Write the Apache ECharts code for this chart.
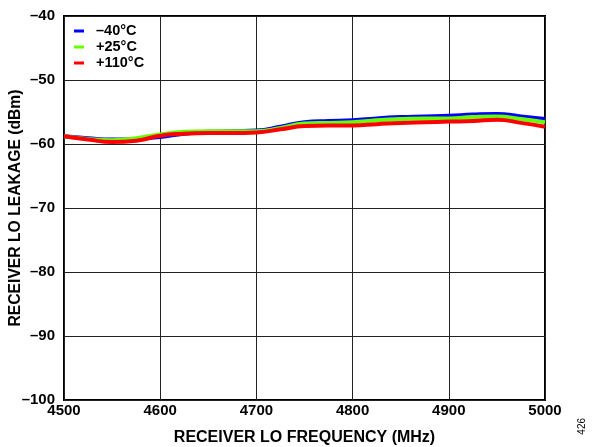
<!DOCTYPE html>
<html><head><meta charset="utf-8">
<script src="https://cdn.jsdelivr.net/npm/echarts@6/dist/echarts.min.js"></script>
<style>html,body{margin:0;padding:0;background:#fff}#c{width:593px;height:447px}</style>
</head><body><div id="c"></div>
<script>
var freq = [4500,4525,4550,4575,4600,4625,4650,4675,4700,4725,4750,4775,4800,4825,4850,4875,4900,4925,4950,4975,5000];
var blue = [-58.8,-59.1,-59.3,-59.2,-58.9,-58.4,-58.1,-58.0,-57.9,-57.3,-56.6,-56.4,-56.3,-56.0,-55.8,-55.7,-55.6,-55.4,-55.3,-55.7,-56.1];
var green = [-58.8,-59.2,-59.4,-59.1,-58.5,-58.1,-58.0,-58.0,-58.0,-57.5,-56.8,-56.7,-56.6,-56.3,-56.1,-56.0,-56.0,-55.8,-55.7,-56.1,-56.6];
var red = [-58.8,-59.3,-59.7,-59.5,-58.7,-58.4,-58.3,-58.3,-58.2,-57.7,-57.2,-57.1,-57.1,-56.9,-56.7,-56.6,-56.5,-56.4,-56.2,-56.7,-57.3];
var names = ['–40°C','+25°C','+110°C'];
var colors = ['#0000ff','#66ff00','#ff0000'];

function pairs(arr){ return freq.map(function(f,i){ return [f, arr[i]]; }); }
var font = 'Liberation Sans, Arial, sans-serif';
var chart = echarts.init(document.getElementById('c'));
chart.setOption({
  animation:false,
  grid:{left:64,right:48,top:16,bottom:47,show:true,borderColor:'#000',borderWidth:2,
    containLabel:false,outerBoundsMode:'none'},
  legend:{orient:'vertical',left:74,top:23,padding:0,itemWidth:10,itemHeight:3,itemGap:0,
    icon:'rect',
    textStyle:{fontFamily:font,fontWeight:'bold',fontSize:14.5,lineHeight:16,color:'#000',padding:[0,0,0,7]},
    data:names},
  xAxis:{type:'value',min:4500,max:5000,interval:100,
    name:'RECEIVER LO FREQUENCY (MHz)',nameLocation:'middle',nameGap:30,nameMoveOverlap:false,
    nameTextStyle:{fontFamily:font,fontWeight:'bold',fontSize:16,color:'#000'},
    axisLine:{show:false},axisTick:{show:false},
    axisLabel:{fontFamily:font,fontWeight:'bold',fontSize:15,color:'#000',margin:3,
      formatter:function(v){return String(v);}},
    splitLine:{lineStyle:{color:'#222',width:1}}},
  yAxis:{type:'value',min:-100,max:-40,interval:10,
    name:'RECEIVER LO LEAKAGE (dBm)',nameLocation:'middle',nameGap:40,nameMoveOverlap:false,
    nameTextStyle:{fontFamily:font,fontWeight:'bold',fontSize:15.7,color:'#000'},
    axisLine:{show:false},axisTick:{show:false},
    axisLabel:{fontFamily:font,fontWeight:'bold',fontSize:15,color:'#000',margin:9,
      formatter:function(v){return v<0?'–'+Math.abs(v):String(v);}},
    splitLine:{lineStyle:{color:'#222',width:1}}},
  series:[blue,green,red].map(function(arr,i){
    return {name:names[i],type:'line',data:pairs(arr),smooth:true,showSymbol:false,
      color:colors[i],lineStyle:{width:4,color:colors[i]}};
  }),
  graphic:[{type:'text',left:577,top:418,rotation:Math.PI/2,
    style:{text:'426',fontFamily:font,fontSize:10,fill:'#000'}}]
});
</script></body></html>
